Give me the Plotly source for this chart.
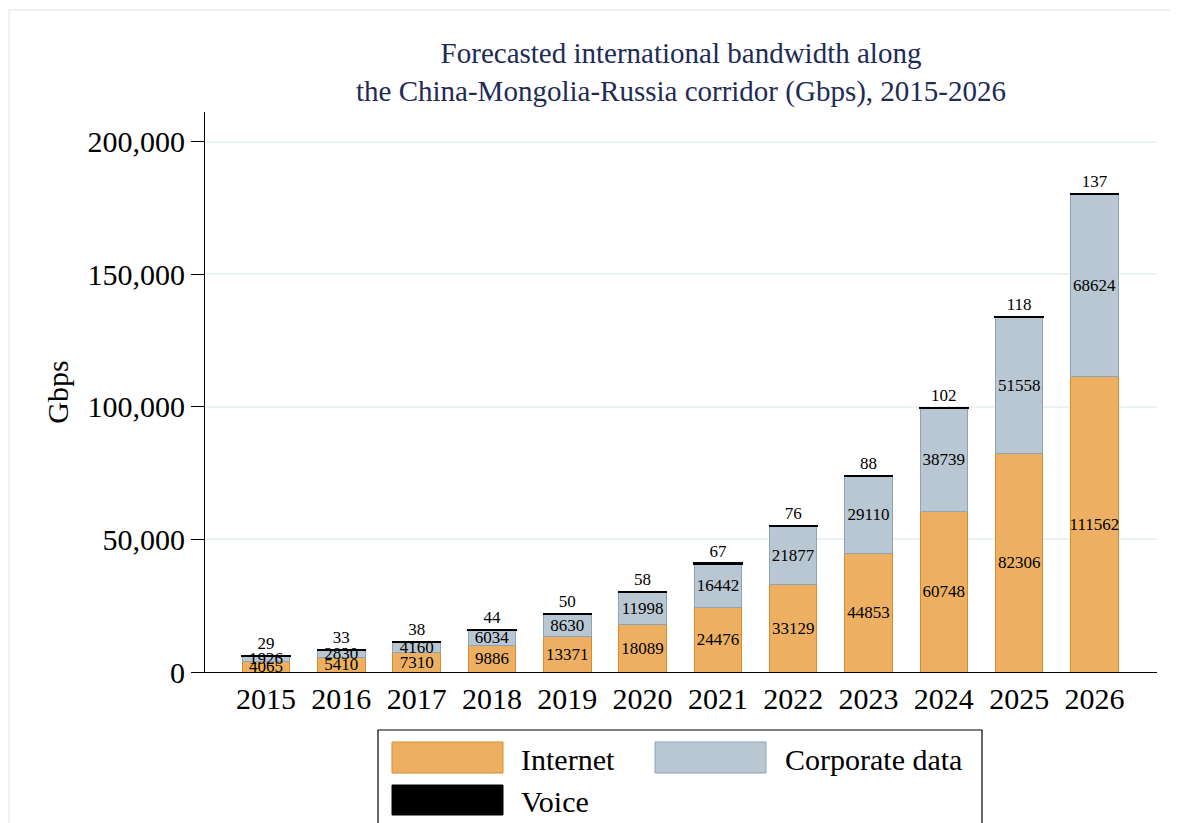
import plotly.graph_objects as go

years = ["2015", "2016", "2017", "2018", "2019", "2020", "2021", "2022", "2023", "2024", "2025", "2026"]
internet = [4065, 5410, 7310, 9886, 13371, 18089, 24476, 33129, 44853, 60748, 82306, 111562]
corporate = [1926, 2830, 4160, 6034, 8630, 11998, 16442, 21877, 29110, 38739, 51558, 68624]
voice = [29, 33, 38, 44, 50, 58, 67, 76, 88, 102, 118, 137]
y_ticks = [0, 50000, 100000, 150000, 200000]

FONT = "Liberation Serif, Times New Roman, serif"
ORANGE = "#EDB062"
ORANGE_EDGE = "#D98B2B"
BLUE = "#B9C7D2"
BLUE_EDGE = "#8EA2B8"

W, H = 1178, 823
OFF = 8  # page body margin
# plot area in page pixels
PL, PR, PT, PB = 205, 1157, 112, 672
L, R, T, B = PL - OFF, PR - OFF, PT - OFF, PB - OFF

def px2x(px):
    return (px - PL) / (PR - PL)

def px2y(py):
    return (PB - py) / (PB - PT)

fig = go.Figure()
fig.add_trace(go.Bar(
    x=years, y=internet, name="Internet",
    marker=dict(color=ORANGE, line=dict(color=ORANGE_EDGE, width=1)),
    text=[str(v) for v in internet], textposition="inside", insidetextanchor="middle",
    textangle=0, textfont=dict(family=FONT, size=17, color="black"),
    showlegend=False,
))
fig.add_trace(go.Bar(
    x=years, y=corporate, name="Corporate data",
    marker=dict(color=BLUE, line=dict(color=BLUE_EDGE, width=1)),
    text=[str(v) for v in corporate], textposition="inside", insidetextanchor="middle",
    textangle=0, textfont=dict(family=FONT, size=17, color="black"),
    showlegend=False,
))
fig.add_trace(go.Bar(
    x=years, y=voice, name="Voice",
    marker=dict(color="black", line=dict(color="black", width=2)),
    text=[str(v) for v in voice], textposition="outside",
    textangle=0, textfont=dict(family=FONT, size=18, color="black"),
    cliponaxis=False, showlegend=False,
))

shapes = [
    dict(type="line", xref="paper", yref="paper", x0=px2x(9), x1=px2x(1190), y0=px2y(10), y1=px2y(10),
         line=dict(color="#E6ECEC", width=1.5)),
    dict(type="line", xref="paper", yref="paper", x0=px2x(9), x1=px2x(9), y0=px2y(10), y1=px2y(850),
         line=dict(color="#E6ECEC", width=1.5)),
    dict(type="rect", xref="paper", yref="paper", x0=px2x(378), x1=px2x(982), y0=px2y(730), y1=px2y(850),
         line=dict(color="black", width=1.2), fillcolor="white"),
    dict(type="rect", xref="paper", yref="paper", x0=px2x(392), x1=px2x(503), y0=px2y(742), y1=px2y(773),
         line=dict(color=ORANGE_EDGE, width=1), fillcolor=ORANGE),
    dict(type="rect", xref="paper", yref="paper", x0=px2x(655), x1=px2x(766), y0=px2y(742), y1=px2y(773),
         line=dict(color=BLUE_EDGE, width=1), fillcolor=BLUE),
    dict(type="rect", xref="paper", yref="paper", x0=px2x(392), x1=px2x(503), y0=px2y(785), y1=px2y(815),
         line=dict(color="black", width=1), fillcolor="black"),
]

annotations = [
    dict(xref="paper", yref="paper", x=px2x(519), y=px2y(759), text="Internet", showarrow=False,
         xanchor="left", yanchor="middle", font=dict(family=FONT, size=30, color="black")),
    dict(xref="paper", yref="paper", x=px2x(783), y=px2y(759), text="Corporate data", showarrow=False,
         xanchor="left", yanchor="middle", font=dict(family=FONT, size=30, color="black")),
    dict(xref="paper", yref="paper", x=px2x(519), y=px2y(801), text="Voice", showarrow=False,
         xanchor="left", yanchor="middle", font=dict(family=FONT, size=30, color="black")),
]

fig.update_layout(
    width=W, height=H,
    margin=dict(l=L, r=W - R, t=T, b=H - B),
    barmode="stack", bargap=0.37,
    paper_bgcolor="white", plot_bgcolor="white",
    font=dict(family=FONT, color="black"),
    title=dict(
        text="Forecasted international bandwidth along<br>the China-Mongolia-Russia corridor (Gbps), 2015-2026",
        x=(681 - OFF) / W, xanchor="center",
        y=1 - 55 / H, yanchor="top",
        font=dict(family=FONT, size=29, color="#1E2B55"),
    ),
    xaxis=dict(
        type="category", range=[-0.81, 11.83],
        showline=True, linecolor="black", linewidth=1.2,
        ticks="", showgrid=False,
        tickfont=dict(family=FONT, size=30, color="black"),
    ),
    yaxis=dict(
        range=[0, 211300], tickvals=y_ticks, tickformat=",",
        showline=True, linecolor="black", linewidth=1.2,
        ticks="outside", ticklen=13, tickcolor="black", tickwidth=1.2,
        showgrid=True, gridcolor="#EAF2F3", gridwidth=2, zeroline=False,
        tickfont=dict(family=FONT, size=30, color="black"),
        title=dict(text="Gbps", font=dict(family=FONT, size=30, color="black"), standoff=9),
    ),
    uniformtext=dict(minsize=17, mode="show"),
    shapes=shapes,
    annotations=annotations,
)

fig.write_html("out.html")
